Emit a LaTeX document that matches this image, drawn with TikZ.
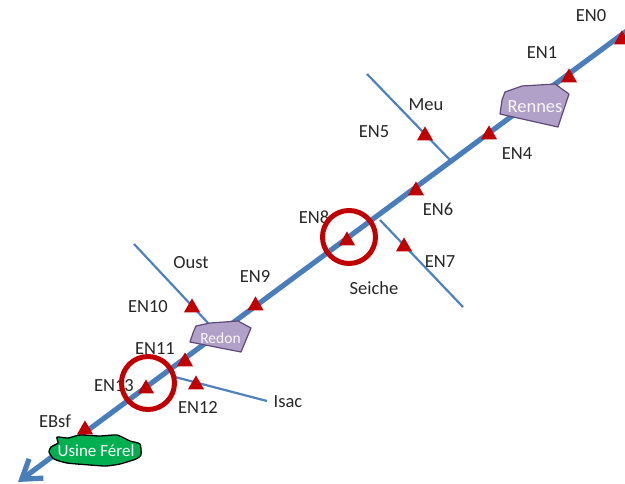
\documentclass[tikz,border=0pt]{standalone}
\usepackage{fontspec}
\setmainfont{Carlito}
\usetikzlibrary{shapes.geometric,arrows.meta}
\definecolor{riverblue}{HTML}{4F81BD}
\definecolor{mainblue}{HTML}{4A7EBB}
\definecolor{gaugered}{HTML}{C00000}
\definecolor{cityfill}{HTML}{B1A0C7}
\definecolor{cityedge}{HTML}{5F497A}
\definecolor{plantgreen}{HTML}{00B050}
\tikzset{
  gauge/.style={isosceles triangle,isosceles triangle apex angle=60,shape border rotate=90,fill=gaugered,inner sep=0pt,minimum height=14pt,minimum width=15.5pt,anchor=apex},
  lab/.style={font=\fontsize{18.5}{22}\selectfont,text=black!85,inner sep=0pt},
  citylab/.style={font=\fontsize{17}{21}\selectfont,text=white!92!cityfill,inner sep=0pt},
  river/.style={riverblue,line width=2.2pt},
  mainriver/.style={mainblue,line width=5.2pt,-{Straight Barb[length=18pt,width=24pt,line width=5.2pt]}},
  city/.style={fill=cityfill,draw=cityedge,line width=1.2pt,line join=round},
  hoop/.style={circle,draw=gaugered,line width=5pt,minimum size=53pt,inner sep=0pt}
}
\begin{document}
\begin{tikzpicture}[x=1pt,y=-1pt]
\useasboundingbox (0,0) rectangle (625,483);
% free ends
\coordinate (srcM) at (628,30);
\coordinate (mouth) at (18,482);
\coordinate (meuA) at (367,74);
\coordinate (meuB) at (450,160);
\coordinate (seiA) at (380,220);
\coordinate (seiB) at (463,307);
\coordinate (ouA) at (134,244);
\coordinate (ouB) at (208,323);
\coordinate (isA) at (175,377);
\coordinate (isB) at (267,401);
% rivers
\draw[river] (meuA) -- (meuB);
\draw[river] (seiA) -- (seiB);
\draw[river] (ouA) -- (ouB);
\draw[river] (isA) -- (isB);
\draw[mainriver] (srcM) -- (mouth);
% towns
\draw[city] (505,92) -- (522,86) -- (555,84) -- (569,94) -- (558,127) -- (500,114) -- (502,100) -- cycle;
\draw[city] (196,326) -- (210,323) -- (238,321) -- (251,328) -- (241,352) -- (190,342) -- (193,333) -- cycle;
\draw[fill=plantgreen,draw=black,line width=1.3pt,line join=round] plot[smooth cycle,tension=0.35] coordinates {(57,437) (68,438) (80,435) (100,436) (117,435) (130,441) (140,444) (141,455) (136,459) (120,464) (106,466) (90,465) (67,463) (54,459) (49,452) (51,447) (58,443)};
\node[citylab] (rennes) at (535,107) {\fontsize{18.5}{22}\selectfont Rennes};
\node[citylab] (redon) at (220.5,338) {\fontsize{15.5}{19}\selectfont Redon};
\node[citylab] (ferel) at (96,451) {Usine Férel};
% labels
\node[lab] (l0) at (591,16) {EN0};
\node[lab] (l1) at (542,53) {EN1};
\node[lab] (l4) at (517,154) {EN4};
\node[lab] (l5) at (374,132) {EN5};
\node[lab] (l6) at (438,209) {EN6};
\node[lab] (l7) at (440,262) {EN7};
\node[lab] (l8) at (314,217) {EN8};
\node[lab] (l9) at (255,276) {EN9};
\node[lab] (l10) at (148,307) {EN10};
\node[lab] (l11) at (155,349) {EN11};
\node[lab] (l12) at (198,407) {EN12};
\node[lab] (l13) at (114,386) {EN13};
\node[lab] (lb) at (55,421) {EBsf};
\node[lab] (meu) at (426,105) {Meu};
\node[lab] (oust) at (191,263) {Oust};
\node[lab] (seiche) at (374,288) {Seiche};
\node[lab] (isac) at (288,402) {Isac};
% gauges
\node[gauge] (g0) at (622,30) {};
\node[gauge] (g1) at (569,68) {};
\node[gauge] (g4) at (489,125) {};
\node[gauge] (g5) at (425,126) {};
\node[gauge] (g6) at (416,181) {};
\node[gauge] (g7) at (404,237) {};
\node[gauge] (g8) at (347,231) {};
\node[gauge] (g9) at (255.5,296) {};
\node[gauge] (g10) at (192,298) {};
\node[gauge] (g11) at (185,352) {};
\node[gauge] (g12) at (196,375) {};
\node[gauge] (g13) at (146,379) {};
\node[gauge] (gb) at (85,420) {};
% circles
\node[hoop] (h1) at (349,237) {};
\node[hoop] (h2) at (148,383) {};
\end{tikzpicture}
\end{document}
